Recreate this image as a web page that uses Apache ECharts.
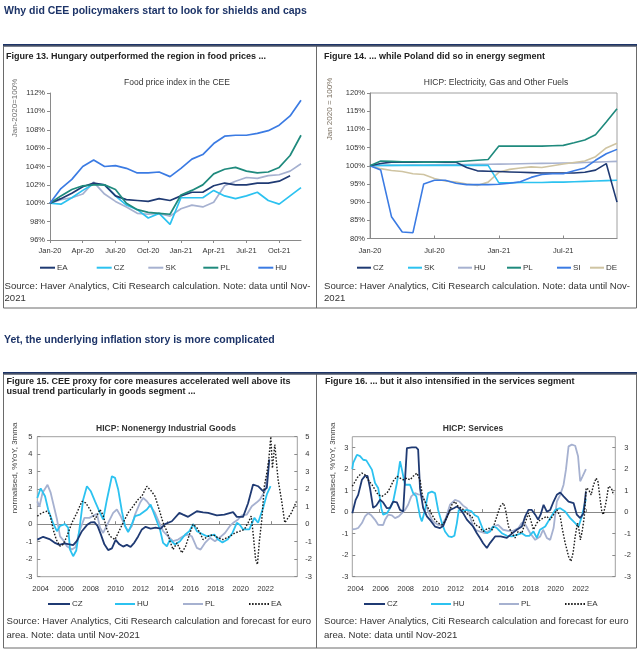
<!DOCTYPE html>
<html><head><meta charset="utf-8">
<script src="https://cdn.jsdelivr.net/npm/echarts@6.0.0/dist/echarts.min.js"></script>
<style>html,body{margin:0;padding:0;background:#fff}#c{width:640px;height:654px}</style>
</head><body><div id="c"></div>
<script>
// ---------- Figure 13: food price index (Jan-2020 = 100%) ----------
const months = ['Jan-20','Feb-20','Mar-20','Apr-20','May-20','Jun-20','Jul-20','Aug-20','Sep-20','Oct-20','Nov-20','Dec-20',
                'Jan-21','Feb-21','Mar-21','Apr-21','May-21','Jun-21','Jul-21','Aug-21','Sep-21','Oct-21','Nov-21','Dec-21'];
const food_EA = [100,100.5,101.1,101.8,102.2,102.0,100.8,100.4,100.3,100.2,100.5,100.3,100.8,101.2,101.2,101.9,102.2,102.0,102.0,102.2,102.2,102.4,103.0];
const food_CZ = [100,99.9,100.6,101.4,102.1,102.0,100.8,99.8,99.3,98.4,98.9,97.7,100.6,100.6,100.6,101.4,100.8,100.5,100.8,101.2,100.3,99.9,100.8,101.7];
const food_SK = [100,100.4,100.6,101.0,102.3,101.0,100.2,99.6,98.9,98.8,98.9,98.6,99.4,99.8,99.6,100.1,101.9,102.4,102.8,102.7,103.0,103.1,103.5,104.3];
const food_PL = [100,100.8,101.5,101.9,102.0,102.0,101.5,100.0,99.3,99.0,98.9,98.8,100.9,101.4,102.0,103.2,103.7,103.9,103.5,103.3,103.4,103.9,105.2,107.4];
const food_HU = [100,101.6,102.6,104.0,104.7,104.0,104.1,103.8,103.3,103.3,103.4,102.9,103.8,104.8,105.3,106.5,107.3,107.4,107.4,107.6,107.9,108.5,109.5,111.2];

// ---------- Figure 14: HICP electricity, gas and other fuels (Jan 2020 = 100%) ----------
const en_CZ = [100,100.6,101.0,101.0,101.0,101.0,101.0,101.0,101.0,99.5,98.6,98.5,98.4,98.3,98.2,98.1,98.0,98.0,98.0,98.0,98.2,98.8,100.6,90.0];
const en_SK = [100,100.1,100.1,100.1,100.1,100.1,100.1,100.1,100.1,100.1,100.1,100.1,95.3,95.3,95.4,95.4,95.4,95.5,95.5,95.6,95.7,95.8,95.9,96.0];
const en_HU = [100,100.05,100.1,100.15,100.2,100.2,100.25,100.3,100.3,100.35,100.4,100.4,100.45,100.5,100.55,100.6,100.65,100.7,100.75,100.8,100.9,101.0,101.1,101.2];
const en_PL = [100,101.3,101.2,101.1,101.1,101.0,101.0,101.1,101.1,101.3,101.5,101.7,105.4,105.4,105.4,105.4,105.4,105.5,105.6,106.3,107.1,108.5,112.0,115.7];
const en_SI = [100,98.8,86.0,81.8,81.6,95.0,96.0,96.0,95.2,94.8,94.8,94.8,94.9,95.2,95.6,96.8,97.6,97.8,97.8,98.6,99.4,101.5,103.3,104.5];
const en_DE = [100,99.2,98.7,98.4,97.8,97.6,96.5,95.8,95.5,95.0,94.6,95.5,98.2,99.0,99.4,99.7,99.5,100.0,100.5,100.9,101.3,102.5,104.9,106.2];

// ---------- Figure 15: HICP non-energy industrial goods, normalised %YoY 3mma ([year, value]) ----------
const yearTicks = [2004,2006,2008,2010,2012,2014,2016,2018,2020,2022];
const zeroTicks = [2005.9,2010.0,2014.15,2018.3,2022.45];
const neig_CZ = [[2003.73,-0.88],[2004.2,-0.72],[2004.7,-0.85],[2005.1,-1.05],[2005.5,-1.18],[2005.9,-1.1],[2006.3,-1.15],[2006.6,-1.2],[2006.9,-0.95],[2007.3,-0.4],[2007.7,-0.05],[2008.0,0.1],[2008.3,0.12],[2008.55,-0.1],[2008.8,-0.55],[2009.1,-1.15],[2009.4,-1.48],[2009.7,-1.38],[2010.0,-0.9],[2010.3,-1.15],[2010.6,-1.28],[2010.9,-1.18],[2011.2,-1.3],[2011.5,-1.05],[2011.8,-0.7],[2012.1,-0.3],[2012.4,-0.15],[2012.8,-0.25],[2013.2,-0.2],[2013.6,-0.25],[2013.95,0.0],[2014.5,0.17],[2015.1,0.65],[2015.4,0.55],[2015.8,0.42],[2016.5,0.74],[2017.0,0.68],[2017.4,0.65],[2018.1,0.5],[2018.7,0.55],[2019.4,0.69],[2019.7,0.42],[2020.2,0.42],[2020.6,1.2],[2021.0,2.27],[2021.4,2.17],[2021.8,1.89],[2022.1,2.08],[2022.3,3.7]];
const neig_HU = [[2003.73,1.5],[2004.0,2.05],[2004.35,1.6],[2004.6,0.84],[2005.0,0.04],[2005.3,-0.4],[2005.55,-0.1],[2005.95,0.0],[2006.2,-0.2],[2006.35,-1.45],[2006.6,-1.83],[2006.85,-1.5],[2007.1,-0.3],[2007.4,1.4],[2007.7,2.17],[2008.0,1.9],[2008.35,1.3],[2008.75,0.65],[2009.0,0.27],[2009.3,1.4],[2009.7,2.74],[2009.95,2.65],[2010.2,2.0],[2010.5,0.74],[2010.75,-0.1],[2011.0,-0.45],[2011.3,0.0],[2011.55,0.46],[2011.95,0.55],[2012.5,0.84],[2012.8,1.12],[2013.0,0.74],[2013.3,0.17],[2013.55,-0.3],[2013.8,-1.07],[2014.1,-1.26],[2014.35,-0.88],[2014.75,-1.16],[2015.15,-0.97],[2015.55,-0.6],[2015.9,-0.4],[2016.2,0.0],[2016.5,-0.4],[2016.9,-0.55],[2017.3,-0.69],[2017.9,-0.59],[2018.2,-0.88],[2018.55,-1.05],[2018.95,-0.88],[2019.35,-0.5],[2019.7,0.08],[2019.95,-0.05],[2020.2,-0.3],[2020.7,-0.3],[2021.1,0.36],[2021.4,0.08],[2021.8,0.93],[2022.1,1.7],[2022.4,2.17]];
const neig_PL = [[2003.73,1.3],[2003.9,1.0],[2004.15,1.8],[2004.55,2.25],[2004.8,1.8],[2005.0,1.2],[2005.3,0.3],[2005.55,-0.7],[2005.9,-1.0],[2006.1,-1.26],[2006.5,-1.45],[2006.8,-1.3],[2007.1,-0.4],[2007.5,0.36],[2007.9,0.36],[2008.5,0.6],[2008.75,-0.2],[2009.0,-0.5],[2009.4,0.08],[2009.8,0.65],[2010.1,0.84],[2010.4,0.46],[2010.75,-0.1],[2011.0,-0.4],[2011.3,-0.1],[2011.55,0.55],[2011.95,1.22],[2012.2,1.5],[2012.5,1.31],[2012.8,1.03],[2013.15,0.65],[2013.5,0.08],[2013.8,-0.4],[2014.2,-0.69],[2014.6,-0.97],[2015.0,-0.88],[2015.4,-0.69],[2015.75,-0.6],[2016.1,-0.69],[2016.5,-1.35],[2016.8,-1.45],[2017.15,-1.07],[2017.55,-0.78],[2017.95,-0.97],[2018.35,-0.75],[2018.75,-0.5],[2019.15,-0.1],[2019.45,0.1],[2019.8,0.27],[2020.1,0.5],[2020.5,0.55],[2020.9,1.03],[2021.3,1.25],[2021.55,1.41],[2021.95,1.9],[2022.2,3.0]];
const neig_EA = [[2003.73,0.46],[2004.1,0.65],[2004.5,0.74],[2004.75,0.55],[2005.0,-0.3],[2005.25,-0.88],[2005.55,-1.26],[2005.8,-1.16],[2006.1,-0.69],[2006.5,0.08],[2006.9,0.65],[2007.3,1.31],[2007.6,1.22],[2007.95,0.84],[2008.35,0.27],[2008.75,0.84],[2009.0,0.5],[2009.3,-0.3],[2009.55,-0.69],[2009.95,-0.88],[2010.2,-0.5],[2010.6,0.08],[2011.0,0.65],[2011.4,1.03],[2011.8,1.41],[2012.1,1.6],[2012.5,2.17],[2012.85,1.9],[2013.15,1.6],[2013.4,1.03],[2013.8,0.08],[2014.1,-0.4],[2014.35,-0.97],[2014.6,-1.45],[2014.9,-1.07],[2015.3,-1.64],[2015.6,-1.26],[2015.95,-0.5],[2016.2,0.0],[2016.5,-0.2],[2016.75,-0.5],[2017.0,-0.88],[2017.4,-0.69],[2017.8,-0.6],[2018.2,-0.78],[2018.6,-0.88],[2019.15,-0.69],[2019.55,-0.5],[2019.95,-0.4],[2020.3,-0.3],[2020.6,0.08],[2020.85,0.46],[2021.0,-0.5],[2021.2,-2.0],[2021.35,-2.3],[2021.5,-1.0],[2021.7,0.27],[2021.9,2.17],[2022.1,2.93],[2022.26,3.7],[2022.42,5.0],[2022.55,3.2],[2022.65,3.1],[2022.74,4.55],[2022.85,3.7],[2023.0,2.55],[2023.27,1.41],[2023.54,0.08],[2023.7,0.0],[2024.07,0.65],[2024.47,1.3]];

// ---------- Figure 16: HICP services, normalised %YoY 3mma ([year, value]) ----------
const serv_CZ = [[2003.73,-0.05],[2004.0,0.57],[2004.2,0.8],[2004.5,1.5],[2004.75,1.68],[2004.95,1.68],[2005.15,1.1],[2005.4,0.2],[2005.65,0.3],[2005.95,0.57],[2006.2,0.45],[2006.5,0.18],[2006.75,0.2],[2007.0,0.49],[2007.3,0.45],[2007.55,0.1],[2007.8,0.03],[2008.1,2.97],[2008.5,3.0],[2008.85,3.0],[2009.0,2.9],[2009.15,1.1],[2009.4,0.2],[2009.7,-0.2],[2010.0,-0.4],[2010.35,-0.67],[2010.75,-0.74],[2011.0,-0.65],[2011.2,-0.36],[2011.55,0.1],[2011.85,0.18],[2012.1,0.26],[2012.35,0.15],[2012.6,-0.05],[2012.9,-0.35],[2013.4,-0.67],[2013.7,-0.98],[2013.95,-1.2],[2014.2,-1.45],[2014.5,-1.67],[2014.75,-1.44],[2015.16,-1.13],[2015.6,-1.13],[2016.1,-1.2],[2016.5,-1.0],[2016.9,-0.82],[2017.3,-0.67],[2017.57,-0.2],[2017.83,0.1],[2018.1,0.1],[2018.37,-0.12],[2018.6,-0.35],[2018.8,-0.12],[2019.04,0.34],[2019.3,0.02],[2019.57,0.1],[2019.84,0.49],[2020.1,0.8],[2020.37,0.91],[2020.64,0.73],[2021.04,0.49],[2021.44,0.42],[2021.7,-0.12],[2021.97,-0.28],[2022.24,-0.05],[2022.43,0.96]];
const serv_HU = [[2003.73,2.0],[2003.8,2.28],[2004.1,2.66],[2004.35,2.6],[2004.6,2.43],[2004.85,2.4],[2005.3,1.97],[2005.55,1.35],[2005.8,1.12],[2005.95,0.6],[2006.05,0.18],[2006.2,-0.12],[2006.5,-0.05],[2006.75,0.18],[2007.0,0.49],[2007.3,1.35],[2007.55,2.36],[2007.7,1.97],[2007.95,1.27],[2008.1,1.35],[2008.35,1.27],[2008.6,0.88],[2008.85,0.73],[2009.15,-0.2],[2009.3,-0.43],[2009.55,0.1],[2009.8,0.88],[2010.1,0.95],[2010.35,0.88],[2010.6,0.1],[2010.9,-0.51],[2011.15,-0.9],[2011.45,-1.13],[2011.7,-1.16],[2011.9,-1.1],[2012.1,-0.51],[2012.25,0.1],[2012.5,0.05],[2012.9,0.1],[2013.25,0.05],[2013.55,-0.15],[2013.8,-0.23],[2014.2,-0.82],[2014.5,-0.98],[2014.76,-0.9],[2015.0,-0.67],[2015.3,-0.74],[2015.7,-0.98],[2016.1,-1.1],[2016.5,-1.13],[2016.9,-1.06],[2017.3,-0.98],[2017.6,-1.1],[2017.9,-1.1],[2018.23,-0.9],[2018.5,-1.2],[2018.75,-0.82],[2019.17,-0.67],[2019.57,-0.28],[2019.97,0.1],[2020.37,0.18],[2020.77,0.03],[2021.17,-0.28],[2021.57,-0.51],[2021.84,-0.67],[2022.1,-0.2],[2022.43,0.6]];
const serv_PL = [[2003.73,-0.8],[2004.0,-0.78],[2004.2,-0.74],[2004.5,-0.51],[2004.75,-0.2],[2005.0,-0.05],[2005.25,-0.15],[2005.55,-0.36],[2005.8,-0.59],[2005.95,-0.67],[2006.2,-0.6],[2006.35,-0.36],[2006.6,-0.12],[2006.9,-0.15],[2007.15,-0.28],[2007.45,-0.2],[2007.7,-0.05],[2007.95,0.1],[2008.2,0.34],[2008.45,0.73],[2008.75,0.88],[2009.0,0.82],[2009.3,0.8],[2009.55,0.49],[2009.8,0.03],[2010.1,-0.36],[2010.35,-0.51],[2010.6,-0.59],[2010.9,-0.6],[2011.2,-0.3],[2011.55,0.34],[2011.95,0.57],[2012.3,0.49],[2012.6,0.3],[2012.9,0.18],[2013.15,-0.2],[2013.4,-0.67],[2013.6,-0.82],[2013.9,-0.9],[2014.36,-0.98],[2014.7,-0.85],[2015.0,-0.67],[2015.4,-0.59],[2015.8,-0.82],[2016.2,-0.87],[2016.6,-0.87],[2017.03,-0.74],[2017.3,-0.5],[2017.6,-0.6],[2017.97,-0.98],[2018.37,-1.29],[2018.77,-1.13],[2019.0,-0.82],[2019.3,-1.2],[2019.57,-1.29],[2019.84,-0.74],[2020.1,0.49],[2020.37,0.8],[2020.64,1.27],[2020.83,1.97],[2021.04,3.05],[2021.3,3.13],[2021.57,3.08],[2021.8,2.59],[2021.97,1.43],[2022.16,1.66],[2022.43,2.0]];
const serv_EA = [[2003.73,1.2],[2004.2,1.66],[2004.5,1.81],[2004.75,1.73],[2005.0,1.5],[2005.3,1.27],[2005.55,1.04],[2005.8,0.8],[2006.1,0.73],[2006.5,0.88],[2006.75,1.12],[2007.0,1.43],[2007.3,1.66],[2007.55,1.58],[2007.8,1.5],[2008.1,1.58],[2008.35,1.5],[2008.6,1.66],[2008.9,1.81],[2009.15,1.5],[2009.35,0.73],[2009.55,0.49],[2009.8,0.18],[2010.1,-0.12],[2010.35,-0.36],[2010.6,-0.51],[2010.9,-0.59],[2011.15,-0.43],[2011.4,-0.12],[2011.7,0.34],[2011.95,0.49],[2012.2,0.26],[2012.5,0.18],[2012.75,0.03],[2013.0,-0.12],[2013.3,-0.2],[2013.55,-0.59],[2013.85,-0.67],[2014.2,-0.9],[2014.6,-0.74],[2014.95,-0.82],[2015.3,-0.2],[2015.56,0.26],[2015.83,0.42],[2016.0,0.1],[2016.23,-0.67],[2016.5,-0.98],[2016.76,-1.2],[2017.0,-0.9],[2017.3,-0.98],[2017.55,-0.51],[2017.83,-0.05],[2018.0,-0.35],[2018.23,-0.82],[2018.5,-0.51],[2018.77,-0.36],[2019.0,-0.28],[2019.3,-0.2],[2019.55,-0.36],[2019.84,-0.12],[2020.1,0.1],[2020.37,-0.2],[2020.55,-0.82],[2020.77,-1.44],[2021.04,-2.06],[2021.23,-2.29],[2021.4,-1.9],[2021.57,-1.13],[2021.75,-0.51],[2021.85,-0.74],[2021.99,-1.29],[2022.15,-0.82],[2022.3,-0.2],[2022.45,1.12],[2022.65,1.04],[2022.85,0.8],[2023.04,1.27],[2023.25,1.58],[2023.4,1.4],[2023.57,0.57],[2023.7,0.03],[2023.82,-0.12],[2024.05,0.49],[2024.24,1.2],[2024.46,1.12],[2024.64,0.8]];

// ---------- styling ----------
const FONT = "'Liberation Sans', Arial, Helvetica, sans-serif";
const NAVY = '#1d3468';
const C = {navy:'#1f3a73', cyan:'#2cc2f0', lav:'#a6b1d0', teal:'#1f8a7d', blue:'#3b7be3', tan:'#cfc4a2', black:'#1a1a1a'};
const AX = '#8a8a8a';
const DOTS = 'path://M0,0h1v1h-1zM2,0h1v1h-1zM4,0h1v1h-1zM6,0h1v1h-1zM8,0h1v1h-1zM10,0h1v1h-1zM12,0h1v1h-1z';

function txt(x, y, s, o) {
  o = o || {};
  return {type:'text', x:x, y:y, rotation:o.rot||0, silent:true, z:10,
    style:{text:s, fill:o.color||'#222', font:(o.weight||'normal')+' '+(o.size||9)+'px '+FONT,
      textAlign:o.align||'left', align:o.align||'left', textVerticalAlign:'middle', verticalAlign:'middle'}};
}
function rect(x, y, w, h, fill, stroke) {
  return {type:'rect', silent:true, z:1, shape:{x:x,y:y,width:w,height:h},
    style:{fill:fill||'none', stroke:stroke||'none', lineWidth:1}};
}
function line(name, data, color, xi, yi, w, dashed) {
  return {name:name, type:'line', data:data, xAxisIndex:xi, yAxisIndex:yi, symbol:'none', showSymbol:false,
    silent:true, animation:false, lineStyle:{color:color, width:w, type:dashed?[1.6,1.6]:'solid'}, itemStyle:{color:color}};
}
function leg(name, left, cy, w, dotted) {
  return {data:[{name:name, icon: dotted ? DOTS : 'rect'}], left:left, top:cy-4, itemWidth:w, itemHeight:2,
    symbolKeepAspect:false, itemGap:0, selectedMode:false, padding:0,
    formatter: n => n.split('_')[0], textStyle:{fontFamily:FONT, fontSize:8, color:'#333', padding:[0,0,0,-3]}};
}
const lab = {fontFamily:FONT, fontSize:7.5, color:'#333'};

const option = {
  backgroundColor:'#fff',
  animation:false,
  grid:[
    {left:50, top:93, width:251, height:147},
    {left:370, top:93, width:247, height:145.5, show:true, borderColor:'#a0a0a0', borderWidth:1},
    {left:37.3, top:436.7, width:260, height:140, show:true, borderColor:'#a0a0a0', borderWidth:1},
    {left:352.3, top:436.7, width:263, height:140, show:true, borderColor:'#a0a0a0', borderWidth:1}
  ],
  xAxis:[
    {gridIndex:0, type:'category', data:months, boundaryGap:false,
      axisLine:{lineStyle:{color:AX}}, axisTick:{interval:2, length:3, lineStyle:{color:AX}},
      axisLabel:Object.assign({interval:2, margin:7}, lab), splitLine:{show:false}},
    {gridIndex:1, type:'category', data:months, boundaryGap:false,
      axisLine:{lineStyle:{color:AX}}, axisTick:{interval:5, length:3, inside:true, lineStyle:{color:AX}},
      axisLabel:Object.assign({interval:5, margin:8}, lab), splitLine:{show:false}},
    {gridIndex:2, type:'value', min:2003.73, max:2024.54, axisLine:{show:false, onZero:false}, axisTick:{show:false},
      axisLabel:Object.assign({customValues:yearTicks, margin:8, formatter:v=>String(Math.round(v))}, lab), splitLine:{show:false}},
    {gridIndex:2, type:'value', min:2003.73, max:2024.54, axisLine:{show:true, onZero:true, lineStyle:{color:'#888'}},
      axisTick:{show:true, customValues:zeroTicks, length:3, lineStyle:{color:'#888'}}, axisLabel:{show:false}, splitLine:{show:false}},
    {gridIndex:3, type:'value', min:2003.73, max:2024.78, axisLine:{show:false, onZero:false}, axisTick:{show:false},
      axisLabel:Object.assign({customValues:yearTicks, margin:8, formatter:v=>String(Math.round(v))}, lab), splitLine:{show:false}},
    {gridIndex:3, type:'value', min:2003.73, max:2024.78, axisLine:{show:true, onZero:true, lineStyle:{color:'#888'}},
      axisTick:{show:true, customValues:zeroTicks, length:3, lineStyle:{color:'#888'}}, axisLabel:{show:false}, splitLine:{show:false}}
  ],
  yAxis:[
    {gridIndex:0, type:'value', min:96, max:112, interval:2, axisLine:{show:true, lineStyle:{color:AX}},
      axisTick:{show:true, length:3, lineStyle:{color:AX}}, axisLabel:Object.assign({formatter:'{value}%', margin:5}, lab), splitLine:{show:false}},
    {gridIndex:1, type:'value', min:80, max:120, interval:5, axisLine:{show:true, lineStyle:{color:AX}},
      axisTick:{show:true, length:3, lineStyle:{color:AX}}, axisLabel:Object.assign({formatter:'{value}%', margin:5}, lab), splitLine:{show:false}},
    {gridIndex:2, type:'value', min:-3, max:5, interval:1, position:'left', axisLine:{show:false},
      axisTick:{show:true, inside:true, length:3, lineStyle:{color:AX}}, axisLabel:Object.assign({margin:5}, lab), splitLine:{show:false}},
    {gridIndex:2, type:'value', min:-3, max:5, interval:1, position:'right', axisLine:{show:false},
      axisTick:{show:true, inside:true, length:3, lineStyle:{color:AX}}, axisLabel:Object.assign({margin:8}, lab), splitLine:{show:false}},
    {gridIndex:3, type:'value', min:-3, max:3.5, position:'left', axisLine:{show:false},
      axisTick:{show:true, inside:true, length:3, customValues:[-3,-2,-1,0,1,2,3], lineStyle:{color:AX}},
      axisLabel:Object.assign({margin:4, customValues:[-3,-2,-1,0,1,2,3]}, lab), splitLine:{show:false}},
    {gridIndex:3, type:'value', min:-3, max:3.5, position:'right', axisLine:{show:false},
      axisTick:{show:true, inside:true, length:3, customValues:[-3,-2,-1,0,1,2,3], lineStyle:{color:AX}},
      axisLabel:Object.assign({margin:9, customValues:[-3,-2,-1,0,1,2,3]}, lab), splitLine:{show:false}}
  ],
  legend:[
    leg('EA_13', 40, 267.7, 15), leg('CZ_13', 96.7, 267.7, 15), leg('SK_13', 148.3, 267.7, 15), leg('PL_13', 203.3, 267.7, 15), leg('HU_13', 258.3, 267.7, 15),
    leg('CZ_14', 357, 267.7, 14), leg('SK_14', 408, 267.7, 14), leg('HU_14', 458, 267.7, 14), leg('PL_14', 507, 267.7, 14), leg('SI_14', 557, 267.7, 14), leg('DE_14', 590, 267.7, 14),
    leg('CZ_15', 48, 604, 22), leg('HU_15', 115, 604, 20), leg('PL_15', 183, 604, 20), leg('EA_15', 249, 604, 20, true),
    leg('CZ_16', 364, 604, 21), leg('HU_16', 431, 604, 20), leg('PL_16', 499, 604, 20), leg('EA_16', 565, 604, 20, true)
  ],
  series:[
    line('SK_13', food_SK, C.lav, 0, 0, 1.7),
    line('CZ_13', food_CZ, C.cyan, 0, 0, 1.7),
    line('EA_13', food_EA, C.navy, 0, 0, 1.7),
    line('PL_13', food_PL, C.teal, 0, 0, 1.7),
    line('HU_13', food_HU, C.blue, 0, 0, 1.7),

    line('HU_14', en_HU, C.lav, 1, 1, 1.6),
    line('DE_14', en_DE, C.tan, 1, 1, 1.6),
    line('SK_14', en_SK, C.cyan, 1, 1, 1.6),
    line('CZ_14', en_CZ, C.navy, 1, 1, 1.6),
    line('SI_14', en_SI, C.blue, 1, 1, 1.6),
    line('PL_14', en_PL, C.teal, 1, 1, 1.6),

    line('PL_15', neig_PL, C.lav, 2, 2, 1.8),
    line('HU_15', neig_HU, C.cyan, 2, 2, 1.8),
    line('CZ_15', neig_CZ, C.navy, 2, 2, 1.8),
    line('EA_15', neig_EA, C.black, 2, 2, 1.4, true),

    line('PL_16', serv_PL, C.lav, 4, 4, 1.8),
    line('HU_16', serv_HU, C.cyan, 4, 4, 1.8),
    line('CZ_16', serv_CZ, C.navy, 4, 4, 1.8),
    line('EA_16', serv_EA, C.black, 4, 4, 1.4, true)
  ],
  graphic:[
    txt(4, 11, 'Why did CEE policymakers start to look for shields and caps', {weight:'bold', size:10.5, color:NAVY}),
    rect(3, 44, 634, 2.5, NAVY),
    rect(3.5, 46, 633, 262, 'none', '#6a6a6a'),
    {type:'line', silent:true, shape:{x1:316.5, y1:46, x2:316.5, y2:308}, style:{stroke:'#6a6a6a', lineWidth:1}},
    txt(6, 56.5, 'Figure 13. Hungary outperformed the region in food prices ...', {weight:'bold', size:9}),
    txt(324, 56.5, 'Figure 14. ... while Poland did so in energy segment', {weight:'bold', size:9}),
    txt(177, 83, 'Food price index in the CEE', {size:8.5, color:'#333', align:'center'}),
    txt(496, 83, 'HICP: Electricity, Gas and Other Fuels', {size:8.5, color:'#333', align:'center'}),
    txt(15, 108, 'Jan-2020=100%', {size:8, color:'#6e6e6e', align:'center', rot:Math.PI/2}),
    txt(330, 109, 'Jan 2020 = 100%', {size:8, color:'#7a6f60', align:'center', rot:Math.PI/2}),
    txt(4.5, 286.5, 'Source: Haver Analytics, Citi Research calculation. Note: data until Nov-', {size:9.6, color:'#333'}),
    txt(4.5, 298, '2021', {size:9.6, color:'#333'}),
    txt(324, 286.5, 'Source: Haver Analytics, Citi Research calculation. Note: data until Nov-', {size:9.6, color:'#333'}),
    txt(324, 298, '2021', {size:9.6, color:'#333'}),

    txt(4, 340, 'Yet, the underlying inflation story is more complicated', {weight:'bold', size:10.5, color:NAVY}),
    rect(3, 372, 634, 2.5, NAVY),
    rect(3.5, 374, 633, 274, 'none', '#6a6a6a'),
    {type:'line', silent:true, shape:{x1:316.5, y1:374, x2:316.5, y2:648}, style:{stroke:'#6a6a6a', lineWidth:1}},
    txt(6.5, 382, 'Figure 15. CEE proxy for core measures accelerated well above its', {weight:'bold', size:9}),
    txt(6.5, 391.5, 'usual trend particularly in goods segment ...', {weight:'bold', size:9}),
    txt(325, 382, 'Figure 16. ... but it also intensified in the services segment', {weight:'bold', size:9}),
    txt(166, 428.3, 'HICP: Nonenergy Industrial Goods', {weight:'bold', size:8.5, color:'#333', align:'center'}),
    txt(473, 428.3, 'HICP: Services', {weight:'bold', size:8.5, color:'#333', align:'center'}),
    txt(15, 468, 'normalised, %YoY, 3mma', {size:8, color:'#444', align:'center', rot:Math.PI/2}),
    txt(333, 468, 'normalised, %YoY, 3mma', {size:8, color:'#444', align:'center', rot:Math.PI/2}),
    txt(6.5, 621.7, 'Source: Haver Analytics, Citi Research calculation and forecast for euro', {size:9.6, color:'#333'}),
    txt(6.5, 635, 'area. Note: data until Nov-2021', {size:9.6, color:'#333'}),
    txt(324, 621.7, 'Source: Haver Analytics, Citi Research calculation and forecast for euro', {size:9.6, color:'#333'}),
    txt(324, 635, 'area. Note: data until Nov-2021', {size:9.6, color:'#333'})
  ]
};
const chart = echarts.init(document.getElementById('c'), null, {renderer:'canvas'});
chart.setOption(option);
</script>
</body></html>
